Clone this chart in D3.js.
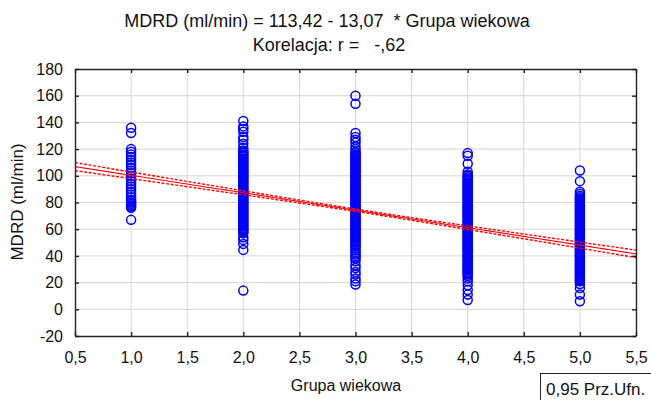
<!DOCTYPE html>
<html>
<head>
<meta charset="utf-8">
<script src="https://cdn.jsdelivr.net/npm/d3@7"></script>
<style>
  body { margin: 0; background: #fff; }
  text { font-family: "Liberation Sans", Arial, sans-serif; }
</style>
</head>
<body>
<svg id="chart" width="651" height="400"></svg>
<script>
// regression summary
const intercept = 113.42;
const slope = -13.07;
const corrR = -0.62;
const meanAge = 3.1;      // centre of the confidence band
const seAtMean = 0.9;     // half-width of band at meanAge
const seSlope = 1.1;      // growth of band away from meanAge

// x ticks / y ticks
const xTicks = [0.5, 1, 1.5, 2, 2.5, 3, 3.5, 4, 4.5, 5, 5.5];
const yTicks = [-20, 0, 20, 40, 60, 80, 100, 120, 140, 160, 180];

// MDRD values read per age group
const ageGroups = [1, 2, 3, 4, 5];
const mdrdGroup1 = [136, 132, 120, 118, 116, 114, 112, 110, 108, 106, 104, 102, 100, 98, 96, 94, 92, 90, 88, 86, 84, 82, 81, 80, 79, 78, 77, 76, 67];
const mdrdGroup2 = [141, 137, 135, 133, 129, 127, 124, 121,
  119, 118, 117, 116, 115, 114, 113, 112, 111, 110, 109, 108, 107, 106, 105, 104, 103, 102, 101, 100,
  99, 98, 97, 96, 95, 94, 93, 92, 91, 90, 89, 88, 87, 86, 85, 84, 83, 82, 81, 80,
  79, 78, 77, 76, 75, 74, 73, 72, 71, 70, 69, 68, 67, 66, 65, 64, 63, 62, 61, 60, 59, 58, 57,
  54, 52, 49, 44.5, 14];
const mdrdGroup3 = [160, 154, 132, 129, 127, 125, 122, 120,
  118, 117, 116, 115, 114, 113, 112, 111, 110, 109, 108, 107, 106, 105, 104, 103, 102, 101, 100,
  99, 98, 97, 96, 95, 94, 93, 92, 91, 90, 89, 88, 87, 86, 85, 84, 83, 82, 81, 80,
  79, 78, 77, 76, 75, 74, 73, 72, 71, 70, 69, 68, 67, 66, 65, 64, 63, 62, 61, 60,
  59, 58, 57, 56, 55, 54, 53, 52, 51, 50, 49, 48, 47,
  45.5, 44, 42.5, 41, 39.5, 38, 36, 33, 31, 28, 26, 23, 21, 18.5];
const mdrdGroup4 = [117, 115, 109, 103,
  101, 100, 99, 98, 97, 96, 95, 94, 93, 92, 91, 90, 89, 88, 87, 86, 85, 84, 83, 82, 81, 80,
  79, 78, 77, 76, 75, 74, 73, 72, 71, 70, 69, 68, 67, 66, 65, 64, 63, 62, 61, 60,
  59, 58, 57, 56, 55, 54, 53, 52, 51, 50, 49, 48, 47, 46, 45, 44, 43, 42, 41, 40,
  39, 38, 37, 36, 35, 34, 33, 32, 31, 30, 29, 28, 27, 26, 25,
  23, 21, 18, 14.5, 11, 7];
const mdrdGroup5 = [104, 96, 88, 86.5,
  85, 84, 83, 82, 81, 80, 79, 78, 77, 76, 75, 74, 73, 72, 71, 70, 69, 68, 67, 66, 65, 64, 63, 62, 61, 60,
  59, 58, 57, 56, 55, 54, 53, 52, 51, 50, 49, 48, 47, 46, 45, 44, 43, 42, 41, 40,
  39, 38, 37, 36, 35, 34, 33, 32, 31, 30, 29, 28, 27, 26, 25, 24, 23, 22, 21,
  19, 16, 11, 6];
const mdrdByGroup = [mdrdGroup1, mdrdGroup2, mdrdGroup3, mdrdGroup4, mdrdGroup5];

const margin = { top: 69, right: 15, bottom: 64, left: 75 };
const width = 651, height = 400;

const svg = d3.select("#chart");
const plotW = width - margin.left - margin.right;
const plotH = height - margin.top - margin.bottom;

const x = d3.scaleLinear().domain([0.5, 5.5]).range([margin.left, margin.left + plotW]);
const y = d3.scaleLinear().domain([-20, 180]).range([margin.top + plotH, margin.top]);

const plLocale = d3.formatLocale({ decimal: ",", thousands: " ", grouping: [3], currency: ["", " zł"], minus: "-" });
const fmtX = plLocale.format(".1f");
const fmtY = plLocale.format("d");

// clip path for marks
svg.append("defs").append("clipPath").attr("id", "plotClip")
  .append("rect")
  .attr("x", margin.left).attr("y", margin.top)
  .attr("width", plotW).attr("height", plotH);

// grid
const grid = svg.append("g").attr("stroke", "#d6d6d6").attr("stroke-width", 1);
grid.selectAll(".gx").data(xTicks.slice(1, -1)).enter().append("line")
  .attr("x1", d => x(d)).attr("x2", d => x(d))
  .attr("y1", margin.top).attr("y2", margin.top + plotH);
grid.selectAll(".gy").data(yTicks.slice(1, -1)).enter().append("line")
  .attr("y1", d => y(d)).attr("y2", d => y(d))
  .attr("x1", margin.left).attr("x2", margin.left + plotW);

// points
const points = [];
ageGroups.forEach((g, i) => mdrdByGroup[i].forEach(v => points.push({ age: g, mdrd: v })));

const marks = svg.append("g").attr("clip-path", "url(#plotClip)");
marks.append("g")
  .selectAll("circle")
  .data(points)
  .enter()
  .append("circle")
  .attr("cx", d => x(d.age))
  .attr("cy", d => y(d.mdrd))
  .attr("r", 4.5)
  .attr("fill", "none")
  .attr("stroke", "#0000ff")
  .attr("stroke-width", 1.5);

// regression line and 0.95 confidence band
const fit = a => intercept + slope * a;
const halfBand = a => Math.sqrt(seAtMean * seAtMean + seSlope * seSlope * (a - meanAge) * (a - meanAge));
const ages = d3.range(0.5, 5.5001, 0.05);

const line = d3.line().x(d => x(d[0])).y(d => y(d[1]));

marks.append("path")
  .attr("d", line(ages.map(a => [a, fit(a) + halfBand(a)])))
  .attr("fill", "none").attr("stroke", "#ff0000").attr("stroke-width", 1.4)
  .attr("stroke-dasharray", "3,1.6");
marks.append("path")
  .attr("d", line(ages.map(a => [a, fit(a) - halfBand(a)])))
  .attr("fill", "none").attr("stroke", "#ff0000").attr("stroke-width", 1.4)
  .attr("stroke-dasharray", "3,1.6");
marks.append("path")
  .attr("d", line(ages.map(a => [a, fit(a)])))
  .attr("fill", "none").attr("stroke", "#ff0000").attr("stroke-width", 1.1);

// axes
const axisBottom = d3.axisBottom(x).tickValues(xTicks).tickFormat(fmtX).tickSizeInner(-4).tickSizeOuter(0).tickPadding(16);
const axisLeft = d3.axisLeft(y).tickValues(yTicks).tickFormat(fmtY).tickSizeInner(-4).tickSizeOuter(0).tickPadding(12);
const axisTop = d3.axisTop(x).tickValues(xTicks).tickFormat("").tickSizeInner(-4).tickSizeOuter(0);
const axisRight = d3.axisRight(y).tickValues(yTicks).tickFormat("").tickSizeInner(-4).tickSizeOuter(0);

function styleAxis(g) {
  g.selectAll("path, line").attr("stroke", "#222").attr("stroke-width", 1.4);
  g.selectAll("text").attr("fill", "#111").attr("font-size", 16).attr("font-family", "Liberation Sans, Arial, sans-serif");
}

svg.append("g").attr("transform", `translate(0,${margin.top + plotH})`).call(axisBottom).call(styleAxis);
svg.append("g").attr("transform", `translate(${margin.left},0)`).call(axisLeft).call(styleAxis);
svg.append("g").attr("transform", `translate(0,${margin.top})`).call(axisTop).call(styleAxis);
svg.append("g").attr("transform", `translate(${margin.left + plotW},0)`).call(axisRight).call(styleAxis);

// titles
const fmtCoef = plLocale.format(".2f");
const title = svg.append("g").attr("font-size", 18).attr("fill", "#111").attr("text-anchor", "middle");
title.append("text").attr("x", 327).attr("y", 27).attr("xml:space", "preserve")
  .text(`MDRD (ml/min) = ${fmtCoef(intercept)} - ${fmtCoef(-slope)}  * Grupa wiekowa`);
title.append("text").attr("x", 329).attr("y", 51).attr("xml:space", "preserve")
  .text(`Korelacja: r =   ${fmtCoef(corrR).replace("-0,", "-,")}`);

svg.append("text").attr("x", 346).attr("y", 391).attr("text-anchor", "middle")
  .attr("font-size", 16).attr("fill", "#111").text("Grupa wiekowa");

svg.append("text")
  .attr("transform", "translate(23,202) rotate(-90)")
  .attr("text-anchor", "middle").attr("font-size", 17).attr("fill", "#111")
  .text("MDRD (ml/min)");

// legend box
svg.append("rect").attr("x", 540.5).attr("y", 373.5).attr("width", 130).attr("height", 40)
  .attr("fill", "#fff").attr("stroke", "#222").attr("stroke-width", 1);
svg.append("text").attr("x", 546).attr("y", 395).attr("font-size", 17).attr("fill", "#111")
  .text("0,95 Prz.Ufn.");
</script>
</body>
</html>
